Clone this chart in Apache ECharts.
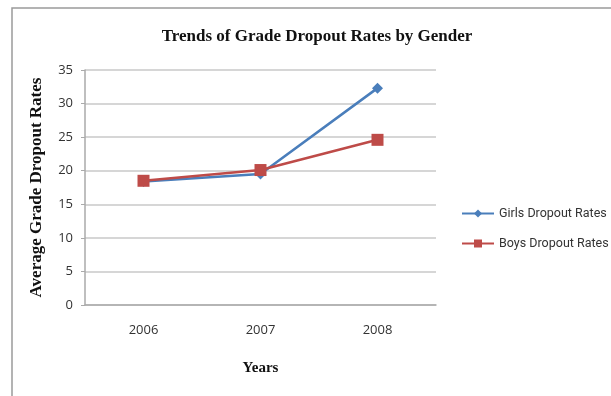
<!DOCTYPE html>
<html><head><meta charset="utf-8">
<script src="https://cdn.jsdelivr.net/npm/echarts@6/dist/echarts.min.js"></script>
<style>html,body{margin:0;padding:0;background:#fff}#c{width:611px;height:396px}</style>
</head><body><div id="c"></div>
<script>
const years = ['2006', '2007', '2008'];
const girls = [18.4, 19.5, 32.3];
const boys = [18.5, 20.1, 24.6];
const yTicks = [0, 5, 10, 15, 20, 25, 30, 35];

const chart = echarts.init(document.getElementById('c'));
chart.setOption({
  animation: false,
  graphic: [{type: 'rect', shape: {x: 12, y: 8, width: 620, height: 400}, style: {fill: 'none', stroke: '#9a9a9a', lineWidth: 1.5}}],
  title: {text: 'Trends of Grade Dropout Rates by Gender', left: 312, top: 23, textAlign: 'center',
    textStyle: {fontFamily: 'Liberation Serif', fontWeight: 'bold', fontSize: 17, color: '#111'}},
  grid: {left: 85, right: 175, top: 70, bottom: 91},
  legend: {orient: 'vertical', left: 456, top: 202, itemGap: 17, itemWidth: 32, itemHeight: 10,
    textStyle: {fontFamily: 'Roboto', fontSize: 12.5, color: '#333'},
    data: ['Girls Dropout Rates', 'Boys Dropout Rates']},
  xAxis: {type: 'category', data: years, boundaryGap: true,
    name: 'Years', nameLocation: 'middle', nameGap: 56,
    nameTextStyle: {fontFamily: 'Liberation Serif', fontWeight: 'bold', fontSize: 15, color: '#111'},
    axisLine: {lineStyle: {color: '#aaa', width: 1.5}}, axisTick: {length: 5, lineStyle: {color: '#aaa'}},
    axisLabel: {fontFamily: 'Open Sans', fontSize: 13, color: '#333', margin: 19}},
  yAxis: {type: 'value', min: yTicks[0], max: yTicks[yTicks.length - 1], interval: 5,
    name: 'Average Grade Dropout Rates', nameLocation: 'middle', nameGap: 40,
    nameTextStyle: {fontFamily: 'Liberation Serif', fontWeight: 'bold', fontSize: 17, color: '#111'},
    axisLine: {show: true, lineStyle: {color: '#aaa', width: 1.5}}, axisTick: {show: true, length: 4, lineStyle: {color: '#aaa'}},
    splitLine: {lineStyle: {color: '#c8c8c8', width: 1.5}},
    axisLabel: {fontFamily: 'Open Sans', fontSize: 13, color: '#333', margin: 12}},
  series: [
    {name: 'Girls Dropout Rates', type: 'line', data: girls, symbol: 'diamond', symbolSize: 11,
      lineStyle: {color: '#4a7ebb', width: 2.5}, itemStyle: {color: '#4a7ebb'}},
    {name: 'Boys Dropout Rates', type: 'line', data: boys, symbol: 'rect', symbolSize: 12,
      lineStyle: {color: '#be4b48', width: 2.5}, itemStyle: {color: '#be4b48'}}
  ]
});
</script></body></html>
